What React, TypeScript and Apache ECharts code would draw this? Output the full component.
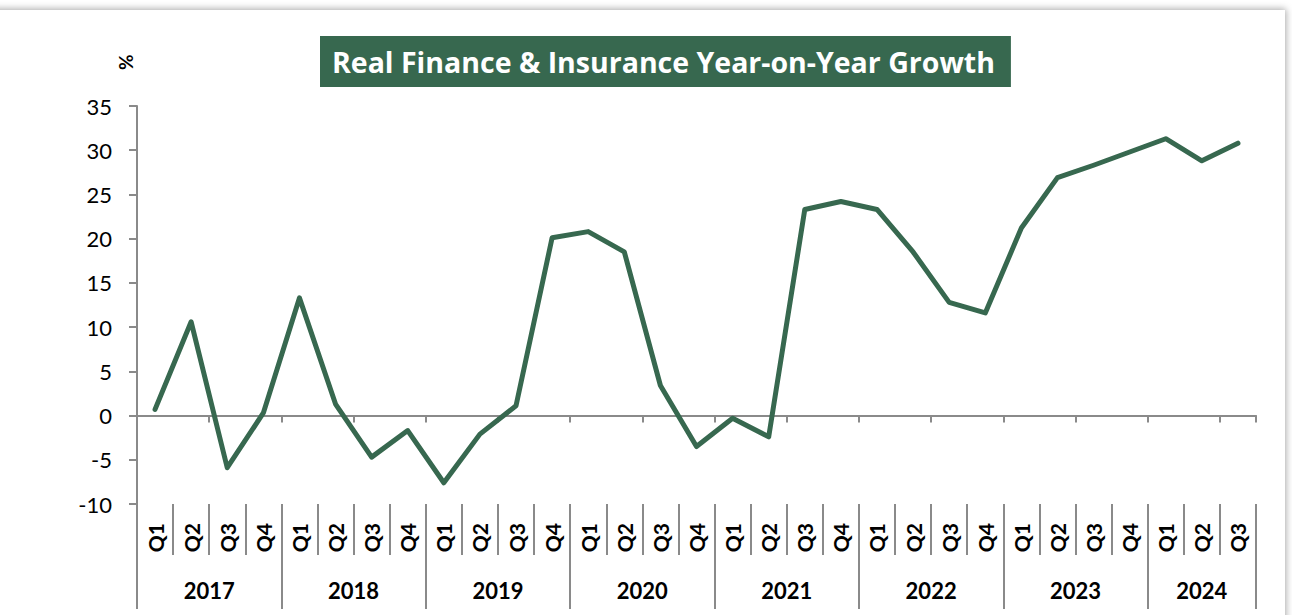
import React, { useEffect, useRef } from "react";
import * as echarts from "echarts";

const years = ["2017", "2018", "2019", "2020", "2021", "2022", "2023", "2024"];
const quartersPerYear = [4, 4, 4, 4, 4, 4, 4, 3];
const growth = [
  0.7, 10.6, -5.9, 0.3,
  13.3, 1.3, -4.7, -1.7,
  -7.6, -2.1, 1.1, 20.1,
  20.8, 18.5, 3.4, -3.5,
  -0.3, -2.4, 23.3, 24.2,
  23.3, 18.5, 12.8, 11.6,
  21.2, 26.9, 28.3, 29.8,
  31.3, 28.8, 30.8,
];
const yTicks = { min: -10, max: 35, interval: 5 };

const GREEN = "#37684f";
const GRAY = "#8a8a8a";
const FONT = "Lato, 'Open Sans', sans-serif";

export default function App() {
  const ref = useRef<HTMLDivElement>(null);
  useEffect(() => {
    if (!ref.current) return;
    const chart = echarts.init(ref.current, null, { renderer: "svg" });

    const quarterCats: string[] = [];
    years.forEach((y, i) => {
      for (let q = 1; q <= quartersPerYear[i]; q++) quarterCats.push(`${y}-Q${q}`);
    });
    // half-slot axis for year labels & separators
    const total = quarterCats.length * 2;
    const halfCats: string[] = [];
    const yearTickIdx = new Set<number>();
    const yearCenterIdx = new Map<number, string>();
    let acc = 0;
    years.forEach((y, i) => {
      yearTickIdx.add(acc);
      yearCenterIdx.set(acc + quartersPerYear[i], y);
      acc += quartersPerYear[i] * 2;
    });
    yearTickIdx.add(total);
    for (let i = 0; i <= total; i++) halfCats.push(yearCenterIdx.get(i) ?? `_${i}`);

    chart.setOption({
      animation: false,
      backgroundColor: "transparent",
      title: {
        text: "Real Finance & Insurance Year-on-Year Growth",
        left: 320,
        top: 36,
        backgroundColor: GREEN,
        padding: [10, 16, 9, 12],
        textStyle: { color: "#fff", fontSize: 28.5, fontWeight: "bold", fontFamily: "'Open Sans', sans-serif", lineHeight: 32 },
      },
      graphic: [
        {
          type: "text",
          x: 116,
          y: 70,
          rotation: Math.PI / 2,
          style: { text: "%", fontSize: 19, fontWeight: "bold", fontFamily: FONT, fill: "#000" },
        },
      ],
      grid: { left: 137, right: 36, top: 106, bottom: 111, containLabel: false },
      xAxis: [
        {
          type: "category",
          data: quarterCats,
          position: "bottom",
          axisLine: { onZero: true, lineStyle: { color: GRAY, width: 2 } },
          axisTick: { show: true, length: 7, lineStyle: { color: GRAY, width: 2 } },
          axisLabel: { show: false },
          splitLine: { show: false },
        },
        {
          type: "category",
          data: quarterCats,
          position: "bottom",
          offset: 0,
          axisLine: { show: false, onZero: false },
          axisTick: { show: true, length: 51, interval: 0, lineStyle: { color: GRAY, width: 2 } },
          axisLabel: {
            interval: 0,
            rotate: 90,
            margin: 19,
            fontSize: 21,
            fontWeight: "bold",
            fontFamily: FONT,
            color: "#000",
            formatter: (v: string) => v.split("-")[1],
          },
        },
        {
          type: "category",
          data: halfCats,
          boundaryGap: false,
          position: "bottom",
          offset: 0,
          axisLine: { show: false, onZero: false },
          axisTick: {
            show: true,
            length: 105,
            interval: (i: number) => yearTickIdx.has(i),
            lineStyle: { color: GRAY, width: 2 },
          },
          axisLabel: {
            interval: (i: number) => yearCenterIdx.has(i),
            margin: 75,
            fontSize: 22,
            fontWeight: "bold",
            fontFamily: FONT,
            color: "#000",
            formatter: (v: string) => (v.startsWith("_") ? "" : v),
          },
        },
      ],
      yAxis: {
        type: "value",
        min: yTicks.min,
        max: yTicks.max,
        interval: yTicks.interval,
        axisLine: { show: true, lineStyle: { color: GRAY, width: 2 } },
        axisTick: { show: true, length: 8, lineStyle: { color: GRAY, width: 2 } },
        axisLabel: { margin: 25, fontSize: 22, fontFamily: FONT, color: "#000" },
        splitLine: { show: false },
      },
      series: [
        {
          type: "line",
          xAxisIndex: 0,
          data: growth,
          symbol: "none",
          lineStyle: { color: GREEN, width: 5, join: "round", cap: "round" },
        },
      ],
    });
    return () => chart.dispose();
  }, []);

  return (
    <div style={{ position: "fixed", left: 0, top: 0, width: 1292, height: 615, background: "#fff", overflow: "hidden" }}>
      <div
        style={{
          position: "absolute",
          left: -20,
          top: 10,
          width: 1305,
          height: 700,
          background: "#fff",
          boxShadow: "0 0 7px 1px rgba(0,0,0,0.35)",
        }}
      />
      <div ref={ref} style={{ position: "absolute", left: 0, top: 0, width: 1292, height: 615 }} />
    </div>
  );
}
